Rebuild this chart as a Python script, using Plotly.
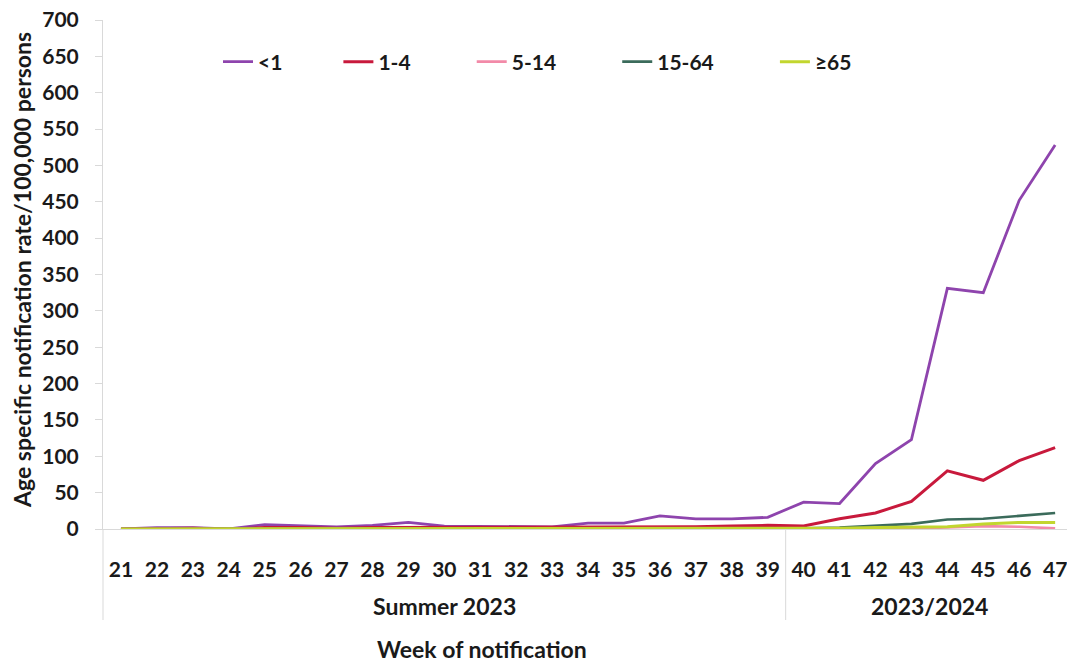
import plotly.graph_objects as go

weeks = list(range(21, 48))
week_labels = [str(w) for w in weeks]
series_names = ["<1", "1-4", "5-14", "15-64", "\u226565"]

rate_lt1 = [0, 2, 2, 0, 6, 5, 3, 5, 9, 4, 4, 4, 3, 8, 8, 18, 14, 14, 16, 37, 35, 90, 123, 331, 325, 452, 528]
rate_1_4 = [0, 1, 1, 0, 2, 2, 1, 2, 2, 2, 3, 3, 2, 3, 3, 3, 3, 4, 5, 4, 14, 22, 38, 80, 67, 94, 112]
rate_5_14 = [0, 0, 0, 0, 1, 0, 0, 0, 1, 0, 0, 0, 0, 0, 0, 1, 0, 0, 1, 1, 1, 1, 1, 2, 4, 3, 1]
rate_15_64 = [0, 0, 0, 0, 1, 1, 0, 1, 1, 1, 1, 1, 0, 1, 1, 1, 1, 1, 1, 1, 2, 4, 7, 13, 14, 18, 22]
rate_65 = [0, 0, 0, 0, 0, 0, 0, 0, 1, 0, 0, 0, 0, 0, 0, 1, 0, 0, 1, 1, 1, 2, 2, 3, 7, 9, 9]

groups = ["Summer 2023", "2023/2024"]
group_centers = [30, 43.5]
group_divider = 39.5

colors = ["#8e44ad", "#c8193c", "#f28aa8", "#3b6b5b", "#c2d62e"]
widths = [2.8, 3, 2.6, 2.6, 3]
all_series = [rate_lt1, rate_1_4, rate_5_14, rate_15_64, rate_65]

FONT = "Lato"
TXT = "#1a1a1a"
AX = "#d9d9d9"
NB = "\u00a0"
pads = [10, 11, 11, 11, 0]
TICK = 21
TITLE = 23

fig = go.Figure()
for name, vals, c, w, p in zip(series_names, all_series, colors, widths, pads):
    fig.add_trace(go.Scatter(x=weeks, y=vals, mode="lines", name=name + NB * p,
                             line=dict(color=c, width=w)))

plot_h = 663 - 20 - 134
plot_w = 1067 - 103

ann = []
for g, cx in zip(groups, group_centers):
    ann.append(dict(x=cx, xref="x", y=-(606 - 529) / plot_h, yref="paper", text=g,
                    showarrow=False, yanchor="middle",
                    font=dict(family=FONT, size=TITLE, color=TXT, weight="bold")))
ann.append(dict(x=(482 - 103) / plot_w, xref="paper", y=-(649 - 529) / plot_h, yref="paper",
                text="Week of notification", showarrow=False, yanchor="middle",
                font=dict(family=FONT, size=TITLE, color=TXT, weight="bold")))
ann.append(dict(x=(22 - 103) / plot_w, xref="paper", y=(529 - 270) / plot_h, yref="paper",
                text="Age specific notification rate/100,000 persons", showarrow=False,
                textangle=-90, xanchor="center", yanchor="middle",
                font=dict(family=FONT, size=TITLE, color=TXT, weight="bold")))

shapes = [
    dict(type="line", xref="paper", yref="paper", x0=0, x1=0, y0=0, y1=-(620 - 529) / plot_h,
         line=dict(color=AX, width=1)),
    dict(type="line", xref="x", yref="paper", x0=group_divider, x1=group_divider, y0=0,
         y1=-(620 - 529) / plot_h, line=dict(color=AX, width=1)),
]

fig.update_layout(
    width=1067, height=663,
    margin=dict(l=103, r=0, t=20, b=134),
    paper_bgcolor="white", plot_bgcolor="white",
    showlegend=True,
    legend=dict(orientation="h", x=(218 - 103) / plot_w, xanchor="left",
                y=(529 - 62) / plot_h, yanchor="middle",
                font=dict(family=FONT, size=TICK, color=TXT, weight="bold"),
                bgcolor="rgba(0,0,0,0)", itemwidth=30, tracegroupgap=0),
    xaxis=dict(range=[20.5, 47.33], tickmode="array", tickvals=weeks, ticktext=week_labels,
               showline=True, linecolor=AX, linewidth=1, ticks="", showgrid=False,
               zeroline=False, ticklabelstandoff=22, ticklabeloverflow="allow",
               tickfont=dict(family=FONT, size=TICK, color=TXT, weight="bold")),
    yaxis=dict(range=[0, 700], dtick=50, showline=True, linecolor=AX, linewidth=1,
               ticks="outside", ticklen=7, tickcolor=AX, showgrid=False, zeroline=False,
               ticklabelstandoff=12,
               tickfont=dict(family=FONT, size=TICK, color=TXT, weight="bold")),
    annotations=ann,
    shapes=shapes,
)

fig.write_html("out.html", config={"displayModeBar": False},
               post_script="document.body.style.margin='0';document.body.style.overflow='hidden';")
